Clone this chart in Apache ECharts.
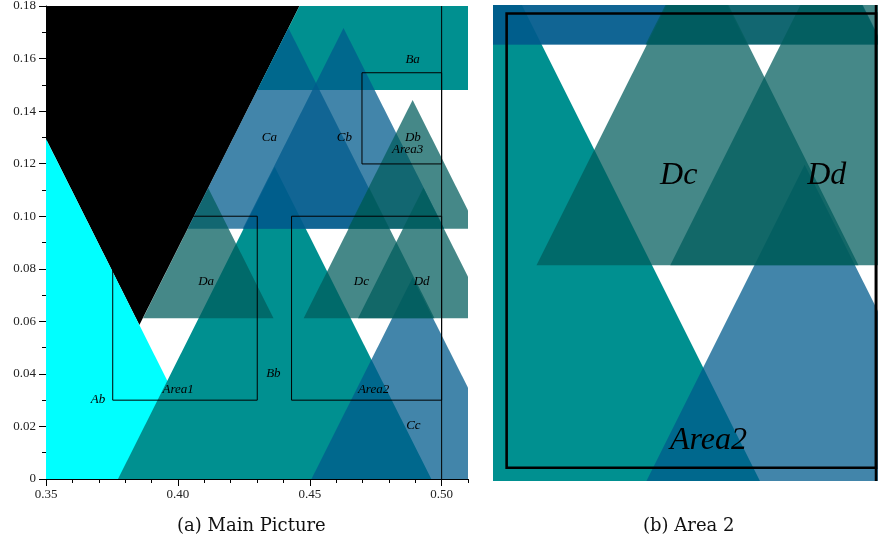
<!DOCTYPE html>
<html>
<head>
<meta charset="utf-8">
<script src="https://cdn.jsdelivr.net/npm/echarts@6/dist/echarts.min.js"></script>
<style>
  html, body { margin: 0; padding: 0; background: #fff; }
  #chart { width: 878px; height: 546px; }
</style>
</head>
<body>
<div id="chart"></div>
<script>
// ---- Triangular regions -------------------------------------------------
// Each region is a triangle whose sides rise 2 units of y per unit of x.
// apex = the pointed corner, flatY = height of the cut-off flat side
// (flatY above the apex means the triangle points downwards).
const shapeNames = ['Aa', 'Ab', 'Ba', 'Bb', 'Ca', 'Cb', 'Cc', 'Da', 'Db', 'Dc', 'Dd'];
const apexX = [0.3854, 0.3300, 0.4861, 0.4367, 0.4419, 0.4628, 0.4890, 0.4115, 0.4890, 0.4725, 0.4931];
const apexY = [0.0586, 0.1694, 0.2600, 0.1188, 0.1716, 0.1716, 0.0767, 0.1107, 0.1442, 0.1108, 0.1108];
const flatY = [0.2600, -0.0500, 0.1480, -0.0500, 0.0952, 0.0952, -0.0500, 0.0612, 0.0952, 0.0612, 0.0612];

// ---- Region labels --------------------------------------------------------
const labelText = ['Ab', 'Ba', 'Bb', 'Ca', 'Cb', 'Cc', 'Da', 'Db', 'Dc', 'Dd', 'Area1', 'Area2', 'Area3'];
const labelX = [0.3697, 0.4890, 0.4362, 0.4347, 0.4631, 0.4893, 0.4107, 0.4891, 0.4696, 0.4924, 0.4001, 0.4742, 0.4871];
const labelY = [0.0301, 0.1598, 0.0403, 0.1301, 0.1301, 0.0202, 0.0750, 0.1299, 0.0750, 0.0750, 0.0342, 0.0342, 0.1252];

// ---- Framed areas ---------------------------------------------------------
const boxNames = ['Area1', 'Area2', 'Area3'];
const boxX0 = [0.3753, 0.4431, 0.4698];
const boxX1 = [0.4301, 0.5000, 0.5000];
const boxY0 = [0.0300, 0.0300, 0.1199];
const boxY1 = [0.1000, 0.1000, 0.1546];

// Vertical marker line
const markerX = [0.50];
const markerY = [0.00, 0.18];

// ---- Axes -----------------------------------------------------------------
const xRange = [0.35, 0.51];
const yRange = [0, 0.18];
const xMajorTicks = [0.35, 0.40, 0.45, 0.50];
const xMinorTicks = [0.36, 0.37, 0.38, 0.39, 0.41, 0.42, 0.43, 0.44, 0.46, 0.47, 0.48, 0.49, 0.51];
const yMajorTicks = [0, 0.02, 0.04, 0.06, 0.08, 0.10, 0.12, 0.14, 0.16, 0.18];
const yMinorTicks = [0.01, 0.03, 0.05, 0.07, 0.09, 0.11, 0.13, 0.15, 0.17];

// Window shown in the enlarged view of Area 2
const zoomXRange = [0.4410, 0.5003];
const zoomYRange = [0.02796, 0.1013];

const captions = ['(a) Main Picture', '(b) Area 2'];

// ---- Styling --------------------------------------------------------------
const SIDE_SLOPE = 2;
const fillStyles = {
  Aa: { fill: '#000000', opacity: 1 },
  Ab: { fill: '#00ffff', opacity: 1 },
  B:  { fill: '#009090', opacity: 1 },
  C:  { fill: 'rgb(0,90,140)', opacity: 0.74 },
  D:  { fill: 'rgb(0,92,92)', opacity: 0.73 }
};
const captionFont = '"DejaVu Serif", serif';
const tickFont = '"Liberation Serif", "Times New Roman", serif';
const labelFont = '"Liberation Serif", "Times New Roman", serif';

function styleFor(name) {
  return fillStyles[name] || fillStyles[name[0]];
}

function triangleItem(params, api) {
  const i = api.value(0);
  const ax = apexX[i], ay = apexY[i], fy = flatY[i];
  const half = Math.abs(ay - fy) / SIDE_SLOPE;
  const pts = [[ax, ay], [ax + half, fy], [ax - half, fy]].map(p => api.coord(p));
  const st = styleFor(shapeNames[i]);
  return { type: 'polygon', shape: { points: pts }, style: { fill: st.fill, opacity: st.opacity, stroke: null } };
}

function boxItemFactory(lineWidth) {
  return function (params, api) {
    const i = api.value(0);
    const p0 = api.coord([boxX0[i], boxY1[i]]);
    const p1 = api.coord([boxX1[i], boxY0[i]]);
    return {
      type: 'rect',
      shape: { x: p0[0], y: p0[1], width: p1[0] - p0[0], height: p1[1] - p0[1] },
      style: { fill: 'none', stroke: '#000', lineWidth: lineWidth }
    };
  };
}

function markerItemFactory(lineWidth) {
  return function (params, api) {
    const x = markerX[api.value(0)];
    return {
      type: 'polyline',
      shape: { points: [api.coord([x, markerY[0]]), api.coord([x, markerY[1]])] },
      style: { fill: 'none', stroke: '#000', lineWidth: lineWidth }
    };
  };
}

function labelItemFactory(fontSize) {
  return function (params, api) {
    const i = api.value(0);
    const p = api.coord([labelX[i], labelY[i]]);
    return {
      type: 'text',
      x: p[0], y: p[1],
      style: {
        text: labelText[i],
        font: 'italic ' + fontSize + 'px ' + labelFont,
        fill: '#000',
        align: 'center',
        verticalAlign: 'middle'
      }
    };
  };
}

// Shapes, frames, marker line and labels for one coordinate window
function seriesForAxes(axisIndex, lineWidth, fontSize) {
  const common = { type: 'custom', coordinateSystem: 'cartesian2d', xAxisIndex: axisIndex, yAxisIndex: axisIndex, clip: true, silent: true, animation: false };
  return [
    Object.assign({}, common, { renderItem: triangleItem, data: shapeNames.map((n, i) => [i]), z: 2 }),
    Object.assign({}, common, { renderItem: boxItemFactory(lineWidth), data: boxNames.map((n, i) => [i]), z: 3 }),
    Object.assign({}, common, { renderItem: markerItemFactory(lineWidth), data: markerX.map((n, i) => [i]), z: 3 }),
    Object.assign({}, common, { renderItem: labelItemFactory(fontSize), data: labelText.map((n, i) => [i]), z: 4 })
  ];
}

const axisLineStyle = { color: '#000', width: 1 };
const fmt = v => (v === 0 ? '0' : v.toFixed(2));

const chart = echarts.init(document.getElementById('chart'), null, { renderer: 'canvas' });
chart.setOption({
  animation: false,
  backgroundColor: '#fff',
  grid: [
    { left: 46, top: 6, width: 422, height: 473, outerBoundsMode: 'none', containLabel: false },
    { left: 493, top: 5, width: 385, height: 476, outerBoundsMode: 'none', containLabel: false }
  ],
  xAxis: [
    {
      gridIndex: 0, type: 'value', min: xRange[0], max: xRange[1], position: 'bottom',
      axisLine: { show: true, lineStyle: axisLineStyle },
      axisTick: { show: true, customValues: xMajorTicks, length: 7, lineStyle: axisLineStyle },
      axisLabel: { show: true, customValues: xMajorTicks, formatter: fmt, margin: 9, color: '#222', fontFamily: tickFont, fontSize: 13 },
      splitLine: { show: false }
    },
    {
      gridIndex: 0, type: 'value', min: xRange[0], max: xRange[1], position: 'bottom',
      axisLine: { show: false },
      axisTick: { show: true, customValues: xMinorTicks, length: 4, lineStyle: axisLineStyle },
      axisLabel: { show: false }, splitLine: { show: false }
    },
    { gridIndex: 1, type: 'value', min: zoomXRange[0], max: zoomXRange[1], show: false }
  ],
  yAxis: [
    {
      gridIndex: 0, type: 'value', min: yRange[0], max: yRange[1], position: 'left',
      axisLine: { show: true, lineStyle: axisLineStyle },
      axisTick: { show: true, customValues: yMajorTicks, length: 7, lineStyle: axisLineStyle },
      axisLabel: { show: true, customValues: yMajorTicks, formatter: fmt, margin: 10, color: '#222', fontFamily: tickFont, fontSize: 13 },
      splitLine: { show: false }
    },
    {
      gridIndex: 0, type: 'value', min: yRange[0], max: yRange[1], position: 'left',
      axisLine: { show: false },
      axisTick: { show: true, customValues: yMinorTicks, length: 4, lineStyle: axisLineStyle },
      axisLabel: { show: false }, splitLine: { show: false }
    },
    { gridIndex: 1, type: 'value', min: zoomYRange[0], max: zoomYRange[1], show: false }
  ],
  graphic: [
    { type: 'text', left: 252 - 75, top: 517, style: { text: captions[0], font: '18px ' + captionFont, fill: '#111' } },
    { type: 'text', left: 690 - 47, top: 517, style: { text: captions[1], font: '18px ' + captionFont, fill: '#111' } }
  ],
  series: seriesForAxes(0, 1, 13).concat(seriesForAxes(2, 2.6, 32))
});
</script>
</body>
</html>
